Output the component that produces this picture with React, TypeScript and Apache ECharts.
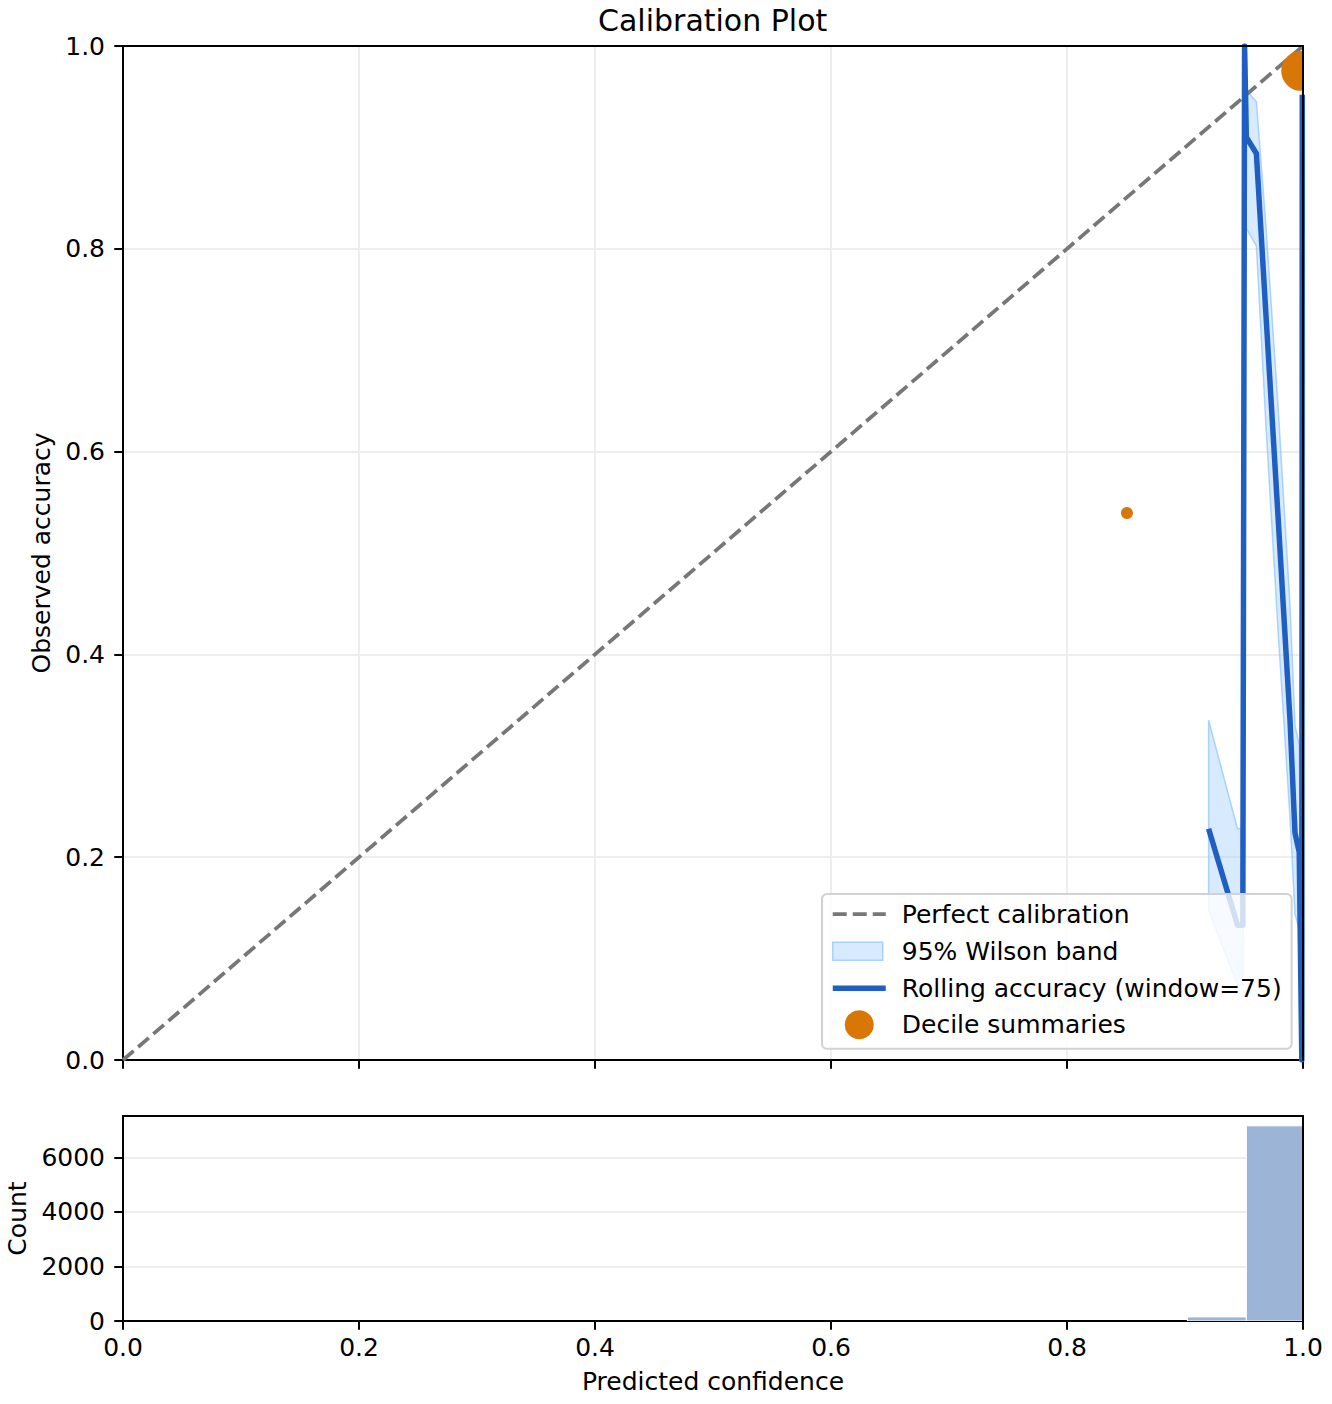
import React, { useEffect, useRef } from 'react';
import * as echarts from 'echarts';

// ---- data ----
const axisTicks = [0, 0.2, 0.4, 0.6, 0.8, 1.0];
const diagX = [0, 1];
const diagY = [0, 1];

// rolling accuracy (window=75), ordered as drawn
const rollX = [0.92, 0.9445, 0.949, 0.9505, 0.952, 0.9605, 0.9686, 0.979, 0.989, 0.9932, 0.9968, 0.999, 0.9994];
const rollY = [0.228, 0.133, 0.133, 1.0, 0.91, 0.894, 0.735, 0.533, 0.335, 0.224, 0.205, 0.0, 0.952];
const rollLo = [0.148, 0.074, 0.074, 0.951, 0.82, 0.803, 0.626, 0.421, 0.239, 0.144, 0.129, 0.0, 0.878];
const rollHi = [0.335, 0.228, 0.228, 1.0, 0.956, 0.945, 0.822, 0.642, 0.448, 0.33, 0.31, 0.049, 0.982];

// decile summaries
const decileX = [0.8508, 0.9985];
const decileY = [0.5394, 0.9755];
const decileSize = [12, 40];

// histogram of predicted confidence
const histEdges = [0.902, 0.952, 1.0];
const histCounts = [150, 7160];
const histYTicks = [0, 2000, 4000, 6000];
const histYMax = 7520;

const FONT = 'DejaVu Sans';
const BLUE = '#1f5fc2';
const ORANGE = '#d97706';
const BAND_FILL = 'rgba(147,197,253,0.36)';
const BAND_EDGE = 'rgba(147,197,253,0.75)';
const GRID_LINE = '#eeeeee';
const TRANSPARENT = 'rgba(0,0,0,0)';

export default function App() {
  const ref = useRef<HTMLDivElement>(null);

  useEffect(() => {
    if (!ref.current) return;
    const chart = echarts.init(ref.current, null, { renderer: 'svg' });

    const tickStyle = { show: true, length: 8.75, inside: false, lineStyle: { color: '#000', width: 2 } };
    const lineAxis = { show: true, onZero: false, lineStyle: { color: '#000', width: 2 } };
    const labelBase = { color: '#000', fontFamily: FONT, fontSize: 25 };
    const nameBase = { color: '#000', fontFamily: FONT, fontSize: 25 };

    const spine = (gridIndex: number, max: number, position: string) => ({
      type: 'value', gridIndex, min: 0, max, position, z: 10,
      axisLine: lineAxis,
      axisTick: { show: false },
      axisLabel: { show: false },
      splitLine: { show: false },
    });

    const option: any = {
      animation: false,
      backgroundColor: '#fff',
      title: {
        text: 'Calibration Plot',
        left: 598,
        top: 5,
        padding: 0,
        textStyle: { fontFamily: FONT, fontSize: 30, fontWeight: 'normal', color: '#000' },
      },
      grid: [
        { left: 123, top: 46, width: 1180, height: 1014, show: false, containLabel: false, outerBoundsMode: 'none' },
        { left: 123, top: 1116, width: 1180, height: 205, show: false, containLabel: false, outerBoundsMode: 'none' },
      ],
      xAxis: [
        {
          type: 'value', gridIndex: 0, min: 0, max: 1, interval: 0.2, position: 'bottom',
          axisLine: lineAxis, axisTick: tickStyle,
          axisLabel: { show: false },
          splitLine: { show: true, lineStyle: { color: GRID_LINE, width: 2 } },
        },
        {
          type: 'value', gridIndex: 1, min: 0, max: 1, interval: 0.2, position: 'bottom',
          axisLine: lineAxis, axisTick: tickStyle,
          axisLabel: { ...labelBase, margin: 14, formatter: (v: number) => v.toFixed(1) },
          splitLine: { show: false },
          name: 'Predicted confidence', nameLocation: 'middle', nameGap: 48, nameTextStyle: nameBase,
        },
        spine(0, 1, 'top'),
        spine(1, 1, 'top'),
      ],
      yAxis: [
        {
          type: 'value', gridIndex: 0, min: 0, max: 1, interval: 0.2, position: 'left',
          axisLine: lineAxis, axisTick: tickStyle,
          axisLabel: { ...labelBase, margin: 18, formatter: (v: number) => v.toFixed(1) },
          splitLine: { show: true, lineStyle: { color: GRID_LINE, width: 2 } },
          name: 'Observed accuracy', nameLocation: 'middle', nameGap: 69, nameTextStyle: nameBase,
        },
        {
          type: 'value', gridIndex: 1, min: 0, max: histYMax, interval: 2000, position: 'left',
          axisLine: lineAxis,
          axisTick: { ...tickStyle, customValues: histYTicks },
          axisLabel: { ...labelBase, margin: 18, customValues: histYTicks, formatter: (v: number) => (histYTicks.indexOf(v) >= 0 ? String(v) : '') },
          splitLine: { show: true, lineStyle: { color: GRID_LINE, width: 2 } },
          name: 'Count', nameLocation: 'middle', nameGap: 92, nameTextStyle: nameBase,
        },
        spine(0, 1, 'right'),
        spine(1, histYMax, 'right'),
      ],
      legend: {
        orient: 'vertical',
        left: 822,
        top: 894,
        padding: [7.5, 10, 9.5, 8],
        itemWidth: 53,
        itemHeight: 29,
        itemGap: 9.4,
        backgroundColor: 'rgba(255,255,255,0.8)',
        borderColor: '#d2d2d2',
        borderWidth: 2,
        borderRadius: 5,
        textStyle: { fontFamily: FONT, fontSize: 25, color: '#000', padding: [0, 0, 0, 11] },
        selectedMode: false,
        data: [
          {
            name: 'Perfect calibration',
            lineStyle: { color: '#777', width: 3.75, type: [14, 6] },
            itemStyle: { color: TRANSPARENT, borderColor: TRANSPARENT, borderWidth: 0 },
          },
          {
            name: '95% Wilson band',
            icon: 'path://M0,0M0,5.5L50,5.5L50,23.5L0,23.5ZM53,29',
            itemStyle: { color: BAND_FILL, borderColor: BAND_EDGE, borderWidth: 1.5 },
          },
          {
            name: 'Rolling accuracy (window=75)',
            lineStyle: { color: BLUE, width: 5.5, type: 'solid' },
            itemStyle: { color: TRANSPARENT, borderColor: TRANSPARENT, borderWidth: 0 },
          },
          { name: 'Decile summaries', icon: 'circle', itemStyle: { color: ORANGE, borderWidth: 0 } },
        ],
      },
      series: [
        {
          name: '95% Wilson band',
          type: 'custom',
          xAxisIndex: 0, yAxisIndex: 0,
          clip: true,
          z: 1,
          itemStyle: { color: BAND_FILL },
          data: [[rollX[0], rollLo[0]]],
          renderItem: (params: any, api: any) => {
            const pts: number[][] = [];
            for (let i = 0; i < rollX.length; i++) pts.push(api.coord([rollX[i], rollHi[i]]));
            for (let i = rollX.length - 1; i >= 0; i--) pts.push(api.coord([rollX[i], rollLo[i]]));
            return {
              type: 'polygon',
              shape: { points: pts },
              style: { fill: BAND_FILL, stroke: BAND_EDGE, lineWidth: 1.5 },
            };
          },
        },
        {
          name: 'Perfect calibration',
          type: 'line',
          xAxisIndex: 0, yAxisIndex: 0,
          data: diagX.map((x, i) => [x, diagY[i]]),
          symbol: 'none',
          z: 2,
          lineStyle: { color: '#777', width: 3.75, type: [14, 6] },
          itemStyle: { color: '#777' },
        },
        {
          name: 'Rolling accuracy (window=75)',
          type: 'line',
          xAxisIndex: 0, yAxisIndex: 0,
          data: rollX.map((x, i) => [x, rollY[i]]),
          symbol: 'none',
          clip: true,
          z: 3,
          lineStyle: { color: BLUE, width: 5.5, join: 'round' },
          itemStyle: { color: BLUE },
        },
        {
          name: 'Decile summaries',
          type: 'custom',
          xAxisIndex: 0, yAxisIndex: 0,
          clip: true,
          z: 4,
          itemStyle: { color: ORANGE },
          data: decileX.map((x, i) => [x, decileY[i], decileSize[i]]),
          encode: { x: 0, y: 1 },
          renderItem: (params: any, api: any) => {
            const c = api.coord([api.value(0), api.value(1)]);
            return {
              type: 'circle',
              shape: { cx: c[0], cy: c[1], r: api.value(2) / 2 },
              style: { fill: ORANGE },
            };
          },
        },
        {
          name: 'hist',
          type: 'custom',
          xAxisIndex: 1, yAxisIndex: 1,
          clip: true,
          data: histCounts.map((c, i) => [histEdges[i], histEdges[i + 1], c]),
          encode: { x: [0, 1], y: 2 },
          renderItem: (params: any, api: any) => {
            const p0 = api.coord([api.value(0), api.value(2)]);
            const p1 = api.coord([api.value(1), 0]);
            return {
              type: 'rect',
              shape: { x: p0[0], y: p0[1], width: p1[0] - p0[0], height: p1[1] - p0[1] },
              style: { fill: '#9cb5d6', stroke: '#fff', lineWidth: 1 },
            };
          },
        },
      ],
    };

    chart.setOption(option);
    return () => chart.dispose();
  }, []);

  return (
    <div
      ref={ref}
      style={{ position: 'absolute', left: 0, top: 0, width: 1332, height: 1404, background: '#fff' }}
    />
  );
}
